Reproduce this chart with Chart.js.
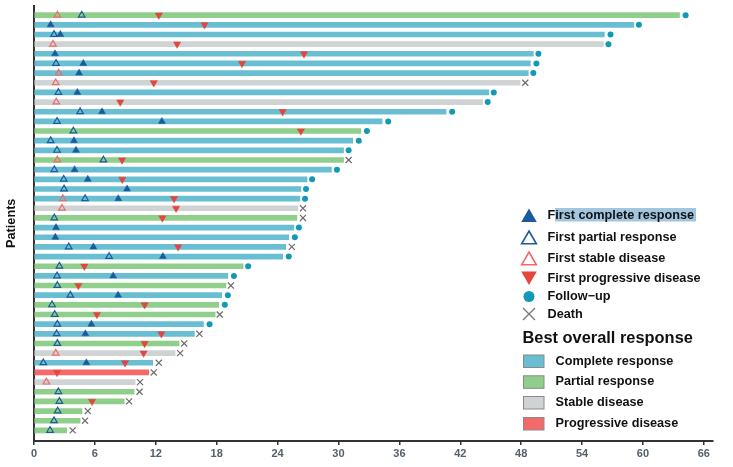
<!DOCTYPE html>
<html>
<head>
<meta charset="utf-8">
<script src="https://cdn.jsdelivr.net/npm/chart.js@4.4.1/dist/chart.umd.min.js"></script>
<style>
  html, body { margin: 0; padding: 0; background: #fff; }
</style>
</head>
<body>
<canvas id="swimmer" width="733" height="467"></canvas>
<script>
// one row per patient, top to bottom (months)
const duration = [63.6, 59.1, 56.2, 56.1, 49.2, 48.9, 48.7, 47.9, 44.8, 44.2, 40.6, 34.3, 32.2, 31.4, 30.5, 30.5, 29.3, 26.9, 26.3, 26.2, 26.0, 25.9,
  25.6, 25.1, 24.8, 24.5, 20.6, 19.1, 18.9, 18.5, 18.2, 17.85, 16.7, 15.8, 14.3, 13.9, 11.7, 11.3, 9.96, 9.86, 8.88, 4.73, 4.54, 3.22];
const bestResponse = ["PR", "CR", "CR", "SD", "CR", "CR", "CR", "SD", "CR", "SD", "CR", "CR", "PR", "CR", "CR", "PR", "CR", "CR", "CR", "CR", "SD", "PR",
  "CR", "CR", "CR", "CR", "PR", "CR", "PR", "CR", "PR", "PR", "CR", "CR", "PR", "SD", "CR", "PD", "SD", "PR", "PR", "PR", "PR", "PR"];
const firstCR = [null, 1.64, 2.6, null, 2.07, 4.86, 4.44, null, 4.27, null, 6.7, 12.6, null, 3.94, 4.14, null, 4.0, 5.3, 9.17, 8.3, null, null,
  2.17, 2.1, 5.85, 12.7, null, 7.8, null, 8.28, null, null, 5.65, 5.06, null, null, 5.16, null, null, null, null, null, null, null];
const firstPR = [4.7, null, 1.97, null, null, 2.17, null, null, 2.4, null, 4.54, 2.27, 3.88, 1.64, 2.27, 6.84, 2.0, 2.93, 2.96, 5.03, null, 2.0,
  null, null, 3.42, 7.4, 2.5, 2.27, 2.3, 3.58, 1.78, 2.04, 2.3, 2.23, 2.3, null, 0.92, null, null, 2.4, 2.5, 2.33, 1.97, 1.58];
const firstSD = [2.3, null, null, 1.87, null, null, 2.43, 2.14, null, 2.2, null, null, null, null, null, 2.3, null, null, null, 2.83, 2.76, null,
  null, null, null, null, null, null, null, null, null, null, null, null, null, 2.14, null, null, 1.22, null, null, null, null, null];
const firstPD = [12.3, 16.8, null, 14.1, 26.6, 20.5, null, 11.8, null, 8.5, 24.5, null, 26.3, null, null, 8.68, null, 8.7, null, 13.8, 14.0, 12.65,
  null, null, 14.2, null, 4.96, null, 4.37, null, 10.9, 6.2, null, 12.55, 10.9, 10.8, 8.97, 2.27, null, null, 5.72, null, null, null];
const endEvent = ["F", "F", "F", "F", "F", "F", "F", "D", "F", "F", "F", "F", "F", "F", "F", "D", "F", "F", "F", "F", "D", "D",
  "F", "F", "D", "F", "F", "F", "D", "F", "F", "D", "F", "D", "D", "D", "D", "D", "D", "D", "D", "D", "D", "D"];
const endTime = [64.2, 59.6, 56.8, 56.6, 49.7, 49.5, 49.2, 48.4, 45.3, 44.7, 41.2, 34.9, 32.8, 32.0, 31.0, 31.0, 29.85, 27.4, 26.8, 26.7, 26.5, 26.5,
  26.1, 25.7, 25.4, 25.1, 21.1, 19.7, 19.4, 19.1, 18.8, 18.3, 17.3, 16.3, 14.8, 14.4, 12.3, 11.8, 10.45, 10.4, 9.37, 5.3, 5.03, 3.81];
const xTicks = [0, 6, 12, 18, 24, 30, 36, 42, 48, 54, 60, 66];
const markerLabels = ["First complete response", "First partial response", "First stable disease", "First progressive disease", "Follow\u2212up", "Death"];
const responseCodes = ["CR", "PR", "SD", "PD"];
const responseLabels = ["Complete response", "Partial response", "Stable disease", "Progressive disease"];

const barColors = { CR: "#69bfd1", PR: "#8fcf8b", SD: "#cfd3d3", PD: "#f46a6a" };
const cColor = { cr: "#1c5a9e", pr: "#1c5a9e", sd: "#ef6b6b", pd: "#e2463f", fu: "#1499b5", death: "#6b6b6b" };
const FONT = '"Liberation Sans", Arial, sans-serif';

function points(values) {
  const out = [];
  values.forEach((v, i) => { if (v !== null) out.push({ x: v, y: i + 1 }); });
  return out;
}
function endPoints(kind) {
  const out = [];
  endTime.forEach((v, i) => { if (endEvent[i] === kind) out.push({ x: v, y: i + 1 }); });
  return out;
}

function tri(ctx, x, y, r, down) {
  const s = down ? -1 : 1;
  ctx.beginPath();
  ctx.moveTo(x, y - s * r);
  ctx.lineTo(x + r * 0.866, y + s * r / 2);
  ctx.lineTo(x - r * 0.866, y + s * r / 2);
  ctx.closePath();
}

const legendPlugin = {
  id: "swimLegend",
  afterDraw(chart) {
    const ctx = chart.ctx;
    ctx.save();
    // selection highlight seen in the source image
    ctx.fillStyle = "#a3c6e0";
    ctx.fillRect(555, 208, 141, 13.5);

    const mx = 529;
    const ys = [215, 237, 258, 278.5, 296.5, 314];
    // CR
    tri(ctx, mx, ys[0] + 2.5, 9, false);
    ctx.fillStyle = cColor.cr; ctx.fill();
    // PR
    tri(ctx, mx, ys[1] + 2.5, 8.5, false);
    ctx.lineWidth = 1.6; ctx.strokeStyle = cColor.pr; ctx.stroke();
    // SD
    tri(ctx, mx, ys[2] + 2.5, 8.5, false);
    ctx.strokeStyle = cColor.sd; ctx.stroke();
    // PD
    tri(ctx, mx, ys[3] - 2.5, 9, true);
    ctx.fillStyle = cColor.pd; ctx.fill();
    // follow-up
    ctx.beginPath(); ctx.arc(mx, ys[4], 5.5, 0, Math.PI * 2);
    ctx.fillStyle = cColor.fu; ctx.fill();
    // death
    ctx.beginPath();
    ctx.moveTo(mx - 6, ys[5] - 6); ctx.lineTo(mx + 6, ys[5] + 6);
    ctx.moveTo(mx + 6, ys[5] - 6); ctx.lineTo(mx - 6, ys[5] + 6);
    ctx.lineWidth = 1.3; ctx.strokeStyle = "#777"; ctx.stroke();

    ctx.fillStyle = "#111";
    ctx.textBaseline = "middle";
    ctx.font = "bold 12.7px " + FONT;
    markerLabels.forEach((t, i) => ctx.fillText(t, 547.5, ys[i]));

    ctx.font = "bold 16.4px " + FONT;
    ctx.fillText("Best overall response", 522.5, 338.5);

    ctx.font = "bold 12.7px " + FONT;
    const by = [361, 381.8, 402.5, 423.5];
    responseLabels.forEach((t, i) => {
      ctx.fillStyle = barColors[responseCodes[i]];
      ctx.fillRect(523.5, by[i] - 6, 20.5, 12.5);
      ctx.lineWidth = 1; ctx.strokeStyle = "#8a8a8a";
      ctx.strokeRect(523.5, by[i] - 6, 20.5, 12.5);
      ctx.fillStyle = "#111";
      ctx.fillText(t, 555.5, by[i]);
    });
    ctx.restore();
  }
};

const markerBase = { type: "scatter", order: 0, pointHoverRadius: 0 };

new Chart("swimmer", {
  type: "bar",
  data: {
    datasets: [
      {
        type: "bar",
        order: 10,
        data: points(duration),
        backgroundColor: bestResponse.map((r) => barColors[r]),
        barThickness: 5,
        borderWidth: 0,
      },
      { ...markerBase, data: points(firstCR), pointStyle: "triangle", pointRadius: 4, backgroundColor: cColor.cr, borderColor: cColor.cr, borderWidth: 0.5 },
      { ...markerBase, data: points(firstPR), pointStyle: "triangle", pointRadius: 3.8, backgroundColor: "rgba(0,0,0,0)", borderColor: cColor.pr, borderWidth: 1.2 },
      { ...markerBase, data: points(firstSD), pointStyle: "triangle", pointRadius: 3.8, backgroundColor: "rgba(0,0,0,0)", borderColor: cColor.sd, borderWidth: 1.2 },
      { ...markerBase, data: points(firstPD), pointStyle: "triangle", pointRotation: 180, pointRadius: 4.2, backgroundColor: cColor.pd, borderColor: cColor.pd, borderWidth: 0.5 },
      { ...markerBase, data: endPoints("F"), pointStyle: "circle", pointRadius: 3, backgroundColor: cColor.fu, borderColor: cColor.fu, borderWidth: 0 },
      { ...markerBase, data: endPoints("D"), pointStyle: "crossRot", pointRadius: 4.3, backgroundColor: cColor.death, borderColor: cColor.death, borderWidth: 1.2 },
    ],
  },
  options: {
    indexAxis: "y",
    responsive: false,
    animation: false,
    events: [],
    layout: { padding: { top: 3.3, right: 20, left: 0, bottom: 0 } },
    plugins: {
      legend: { display: false },
      tooltip: { enabled: false },
    },
    scales: {
      x: {
        type: "linear",
        min: 0,
        max: 66.9,
        afterBuildTicks: (scale) => { scale.ticks = xTicks.map((v) => ({ value: v })); },
        afterFit: (scale) => { scale.height = 26; },
        ticks: {
          color: "#56606c",
          font: { family: FONT, size: 11, weight: "bold" },
          padding: 2,
        },
        grid: { drawOnChartArea: false, drawTicks: true, tickLength: 4, color: "#333", lineWidth: 1.5 },
        border: { display: true, color: "#333", width: 2 },
      },
      y: {
        type: "linear",
        reverse: true,
        offset: false,
        min: 0,
        max: 45.1,
        afterFit: (scale) => { scale.width = 34; },
        ticks: { display: false },
        grid: { drawOnChartArea: false, drawTicks: false, offset: false },
        border: { display: true, color: "#333", width: 2 },
        title: {
          display: true,
          text: "Patients",
          color: "#111",
          font: { family: FONT, size: 12.7, weight: "bold" },
        },
      },
    },
  },
  plugins: [legendPlugin],
});
</script>
</body>
</html>
